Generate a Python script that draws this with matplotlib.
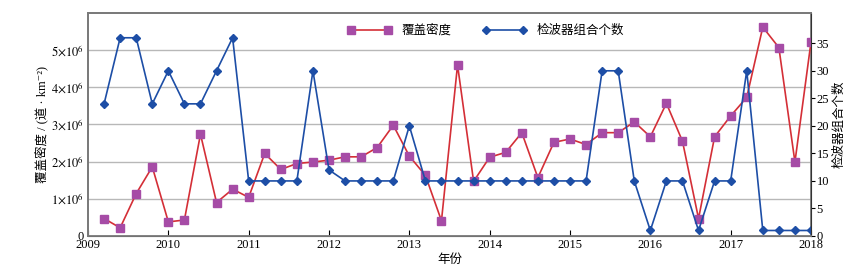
import matplotlib
matplotlib.use("Agg")
import matplotlib.pyplot as plt
import numpy as np

plt.rcParams['font.family'] = ['Liberation Serif', 'Noto Sans CJK SC', 'DejaVu Sans']
plt.rcParams['mathtext.fontset'] = 'stix'

# sampling times (every 0.2 year)
years = [2009.2, 2009.4, 2009.6, 2009.8, 2010.0, 2010.2, 2010.4, 2010.6, 2010.8,
         2011.0, 2011.2, 2011.4, 2011.6, 2011.8, 2012.0, 2012.2, 2012.4, 2012.6, 2012.8,
         2013.0, 2013.2, 2013.4, 2013.6, 2013.8, 2014.0, 2014.2, 2014.4, 2014.6, 2014.8,
         2015.0, 2015.2, 2015.4, 2015.6, 2015.8, 2016.0, 2016.2, 2016.4, 2016.6, 2016.8,
         2017.0, 2017.2, 2017.4, 2017.6, 2017.8, 2018.0]

# coverage density, 10^6 per km^2
density = [0.47, 0.22, 1.14, 1.86, 0.38, 0.43, 2.74, 0.90, 1.26,
           1.04, 2.22, 1.79, 1.95, 1.99, 2.04, 2.13, 2.13, 2.38, 2.98,
           2.15, 1.63, 0.41, 4.60, 1.47, 2.12, 2.25, 2.78, 1.57, 2.52,
           2.61, 2.46, 2.78, 2.78, 3.07, 2.67, 3.57, 2.55, 0.47, 2.67,
           3.23, 3.73, 5.62, 5.07, 1.99, 5.22]

# number of geophone groups
groups = [24, 36, 36, 24, 30, 24, 24, 30, 36,
          10, 10, 10, 10, 30, 12, 10, 10, 10, 10,
          20, 10, 10, 10, 10, 10, 10, 10, 10, 10,
          10, 10, 30, 30, 10, 1, 10, 10, 1, 10,
          10, 30, 1, 1, 1, 1]

left_ticks = [0, 1e6, 2e6, 3e6, 4e6, 5e6]
left_labels = ['0'] + [r'$%d{\times}10^6$' % k for k in range(1, 6)]
right_ticks = [0, 5, 10, 15, 20, 25, 30, 35]
year_ticks = list(range(2009, 2019))

fig = plt.figure(figsize=(8.47, 2.69), dpi=100)
ax = fig.add_axes([0.1039, 0.1227, 0.8536, 0.829])
ax2 = ax.twinx()

dens = np.array(density) * 1e6
l1, = ax.plot(years, dens, color='#d42f37', lw=1.2, marker='s', markersize=6,
              markerfacecolor='#a64ca6', markeredgecolor='#a64ca6', label='覆盖密度', zorder=3)
l2, = ax2.plot(years, groups, color='#1d4ea6', lw=1.2, marker='D', markersize=4,
               markerfacecolor='#1d4ea6', markeredgecolor='#1d4ea6', label='检波器组合个数')

ax.set_xlim(2009, 2018)
ax.set_ylim(0, 6e6)
ax2.set_ylim(0, 40.5)

ax.set_yticks(left_ticks)
ax.set_yticklabels(left_labels)
ax2.set_yticks(right_ticks)
ax.set_xticks(year_ticks)

ax.grid(axis='y', color='#b8b8b8', lw=1)
ax.set_axisbelow(True)

ax.tick_params(axis='x', direction='in', length=4, labelsize=9, pad=2)
ax.tick_params(axis='y', length=0, labelsize=9, pad=3)
ax2.tick_params(axis='y', direction='out', length=3, labelsize=9, pad=1)

for a in (ax, ax2):
    for s in a.spines.values():
        s.set_color('#7a7a7a')
        s.set_linewidth(1.3)
ax2.spines['right'].set_color('#333333')
ax2.spines['right'].set_linewidth(0.8)
ax.spines['bottom'].set_color('#333333')
ax.spines['bottom'].set_linewidth(0.8)

ax.set_xlabel('年份', fontsize=9, labelpad=2)
ax.set_ylabel('覆盖密度 / (道 · km⁻²)', fontsize=9, labelpad=2)
ax2.set_ylabel('检波器组合个数', fontsize=9, labelpad=3)

ax2.legend(handles=[l1, l2], loc='center', bbox_to_anchor=(0.55, 0.92), ncol=2,
           frameon=False, fontsize=9, handlelength=3.5, columnspacing=2.5,
           handletextpad=0.8, numpoints=2)

fig.savefig('out.png', dpi=100)
